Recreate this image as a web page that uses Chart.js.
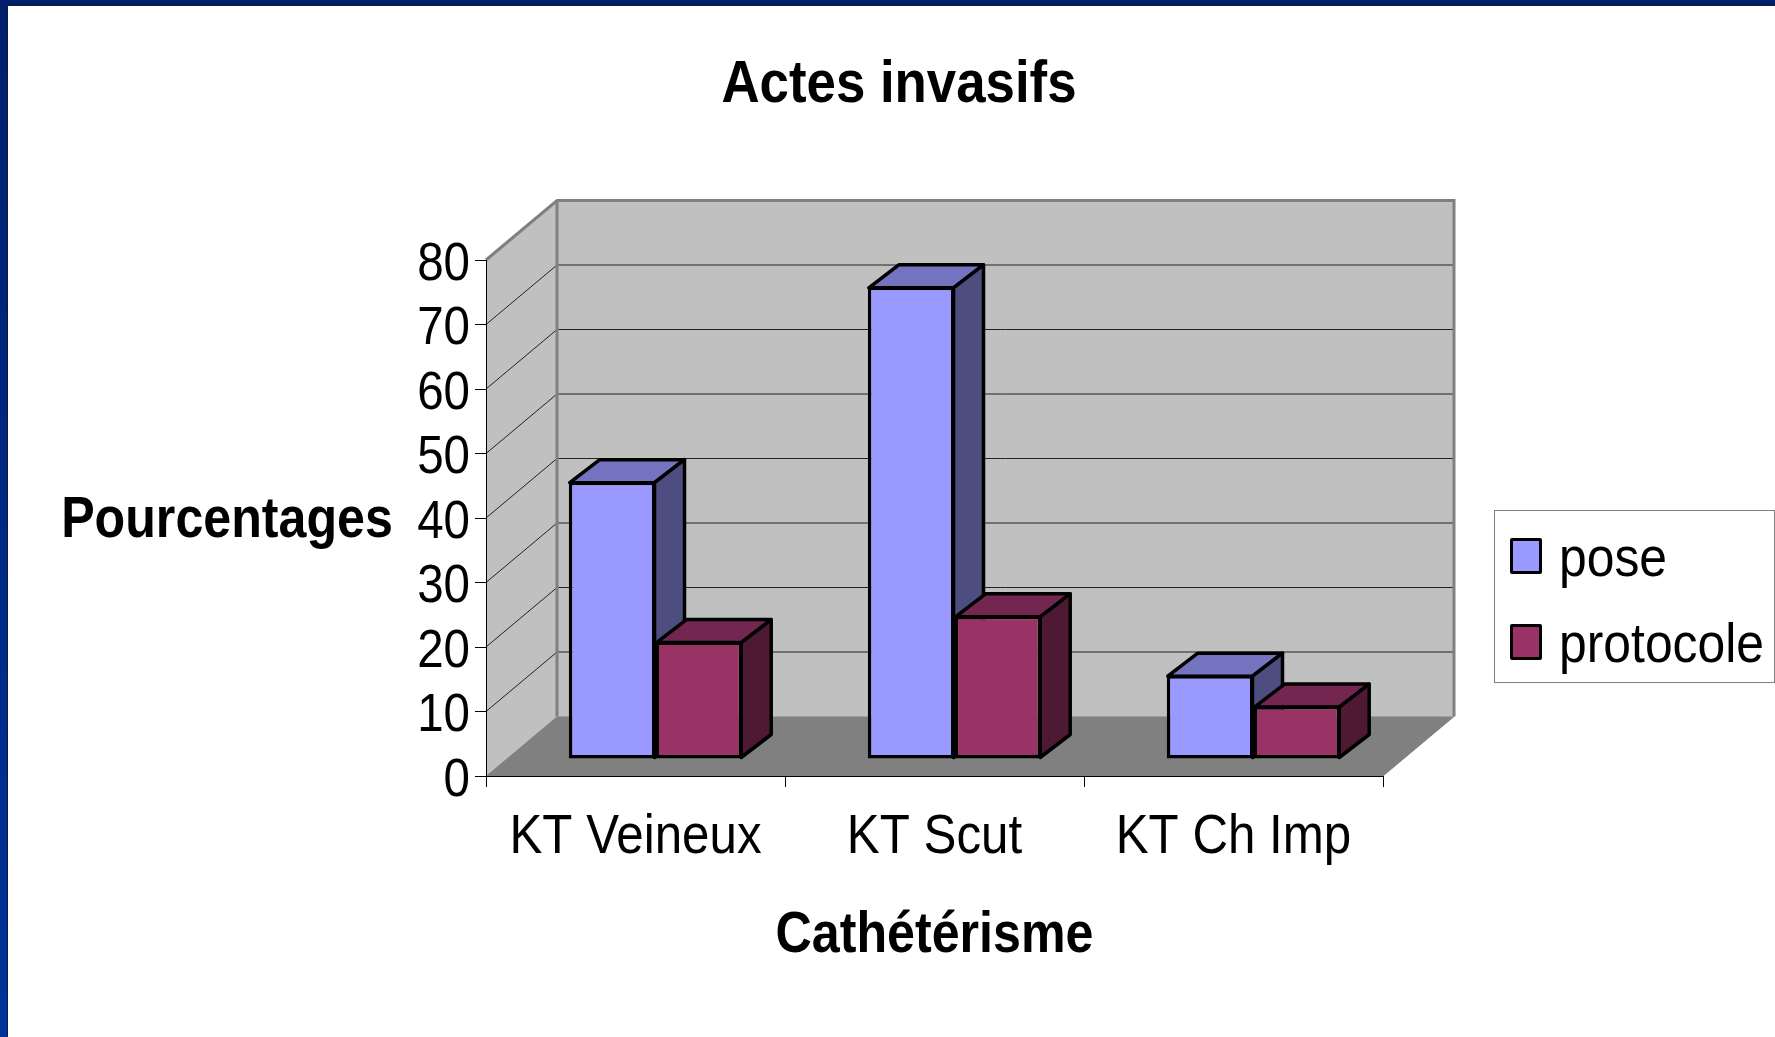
<!DOCTYPE html>
<html lang="fr">
<head>
<meta charset="utf-8">
<title>Actes invasifs</title>
<script src="https://cdn.jsdelivr.net/npm/chart.js@4"></script>
<style>
  html, body { margin: 0; height: 100%; overflow: hidden; }
  body { background: linear-gradient(#00206b, #003399); }
  #panel { position: absolute; left: 8px; top: 6px; right: 0; bottom: 0; background: #fff; box-shadow: -1px -1px 0 #101840; }
  #chart { position: absolute; left: 0; top: 0; }
  #legend {
    position: absolute; left: 1494px; top: 510px; width: 279px; height: 171px;
    background: #fff; border: 1px solid #808080;
    font: 56px "Liberation Sans", sans-serif; color: #000;
  }
  .item { position: absolute; left: 15px; display: flex; align-items: center; height: 70px; }
  .swatch { width: 26px; height: 30px; border: 3px solid #000; border-radius: 2px; margin-right: 17px; }
  .name { display: inline-block; transform: scaleX(0.89); transform-origin: left center; }
</style>
</head>
<body>
<div id="panel"></div>
<canvas id="chart" width="1775" height="1037"></canvas>
<div id="legend"></div>
<script>
const categories     = ['KT Veineux', 'KT Scut', 'KT Ch Imp'];
const poseValues     = [43, 73.2, 13];
const protocolValues = [18.2, 22.2, 8.2];
const yTicks         = [0, 10, 20, 30, 40, 50, 60, 70, 80];

const chartTitle = 'Actes invasifs';
const xTitle     = 'Cathétérisme';
const yTitle     = 'Pourcentages';

const sans = '"Liberation Sans", sans-serif';

/* depth of the box and of the bars, in px */
const wallDx = 71, wallDy = 59.5;
const barShiftX = 20, barShiftY = 17;
const barDx = 30, barDy = 23;

/* the original text is squeezed sideways, no narrow font here so do it on fillText */
const canvas = document.getElementById('chart');
const rawCtx = canvas.getContext('2d');
const rawFillText = rawCtx.fillText.bind(rawCtx);
rawCtx.fillText = (text, x, y) => {
  rawCtx.save();
  rawCtx.translate(x, y);
  rawCtx.scale(0.88, 1);
  rawFillText(text, 0, 0);
  rawCtx.restore();
};

/* ── Walls, floor, gridlines and the horizontal y title ── */
const wallsPlugin = {
  id: 'walls',
  beforeDraw(chart) {
    const { ctx, chartArea: a } = chart;
    const y = chart.scales.y;
    const top = y.getPixelForValue(yTicks[yTicks.length - 1]);
    const bot = y.getPixelForValue(0);

    ctx.save();
    ctx.fillStyle = '#c0c0c0';
    ctx.beginPath();
    ctx.moveTo(a.left, top);
    ctx.lineTo(a.left + wallDx, top - wallDy);
    ctx.lineTo(a.right + wallDx, top - wallDy);
    ctx.lineTo(a.right + wallDx, bot - wallDy);
    ctx.lineTo(a.left, bot);
    ctx.closePath();
    ctx.fill();

    ctx.fillStyle = '#808080';
    ctx.beginPath();
    ctx.moveTo(a.left, bot);
    ctx.lineTo(a.left + wallDx, bot - wallDy);
    ctx.lineTo(a.right + wallDx, bot - wallDy);
    ctx.lineTo(a.right, bot);
    ctx.closePath();
    ctx.fill();

    ctx.strokeStyle = '#222';
    ctx.lineWidth = 1;
    yTicks.slice(1, -1).forEach(v => {
      const py = y.getPixelForValue(v);
      ctx.beginPath();
      ctx.moveTo(a.left, py);
      ctx.lineTo(a.left + wallDx, py - wallDy);
      ctx.lineTo(a.right + wallDx, py - wallDy);
      ctx.stroke();
    });

    ctx.strokeStyle = '#808080';
    ctx.lineWidth = 3;
    ctx.beginPath();
    ctx.moveTo(a.left, top);
    ctx.lineTo(a.left + wallDx, top - wallDy);
    ctx.lineTo(a.right + wallDx, top - wallDy);
    ctx.lineTo(a.right + wallDx, bot - wallDy);
    ctx.moveTo(a.left + wallDx, top - wallDy);
    ctx.lineTo(a.left + wallDx, bot - wallDy);
    ctx.stroke();
    ctx.lineWidth = 1;
    ctx.beginPath();
    ctx.moveTo(a.right + wallDx, bot - wallDy);
    ctx.lineTo(a.right, bot);
    ctx.stroke();

    ctx.fillStyle = '#000';
    ctx.font = 'bold 57px ' + sans;
    ctx.textAlign = 'center';
    ctx.textBaseline = 'middle';
    ctx.fillText(yTitle, 227, 521);
    ctx.restore();
  },
  /* Chart.js paints the last dataset first, here pose must go under protocole */
  beforeDatasetDraw() {
    return false;
  },
  /* bars sit inside the box: shift them, then add the side and top faces */
  afterDatasetsDraw(chart) {
    const { ctx } = chart;
    chart.data.datasets.forEach((ds, i) => {
      const meta = chart.getDatasetMeta(i);
      ctx.save();
      ctx.translate(barShiftX, -barShiftY);
      ctx.strokeStyle = '#000';
      ctx.lineWidth = 3.5;
      ctx.lineJoin = 'round';
      meta.data.forEach(bar => {
        const left = bar.x - bar.width / 2 + 1, right = bar.x + bar.width / 2 - 1;
        const topY = bar.y + 1, baseY = bar.base - 1;
        ctx.fillStyle = ds.topColor;
        ctx.beginPath();
        ctx.moveTo(left, topY);
        ctx.lineTo(left + barDx, topY - barDy);
        ctx.lineTo(right + barDx, topY - barDy);
        ctx.lineTo(right, topY);
        ctx.closePath();
        ctx.fill();
        ctx.stroke();
        ctx.fillStyle = ds.sideColor;
        ctx.beginPath();
        ctx.moveTo(right, topY);
        ctx.lineTo(right + barDx, topY - barDy);
        ctx.lineTo(right + barDx, baseY - barDy);
        ctx.lineTo(right, baseY);
        ctx.closePath();
        ctx.fill();
        ctx.stroke();
      });
      meta.controller.draw();
      ctx.restore();
    });
  }
};

const chart = new Chart(canvas, {
  type: 'bar',
  plugins: [wallsPlugin],
  data: {
    labels: categories,
    datasets: [
      {
        label: 'pose',
        data: poseValues,
        backgroundColor: '#9999ff',
        topColor: '#7373bf',
        sideColor: '#4d4d80',
        borderColor: '#000',
        borderWidth: 3.5,
        borderSkipped: false,
      },
      {
        label: 'protocole',
        data: protocolValues,
        backgroundColor: '#993366',
        topColor: '#732650',
        sideColor: '#4d1933',
        borderColor: '#000',
        borderWidth: 3.5,
        borderSkipped: false,
      }
    ]
  },
  options: {
    responsive: false,
    animation: false,
    categoryPercentage: 0.58,
    barPercentage: 1,
    layout: { padding: { left: 415, right: 392, top: 49, bottom: 0 } },
    plugins: {
      legend: { display: false },
      tooltip: { enabled: false },
      title: {
        display: true,
        text: chartTitle,
        color: '#000',
        font: { family: sans, size: 60, weight: 'bold' },
        padding: { top: 0, bottom: 139 },
      }
    },
    scales: {
      x: {
        afterFit: s => { s.height = 261; },
        border: { color: '#000', width: 1 },
        grid: { drawOnChartArea: false, color: '#000', tickLength: 11 },
        ticks: { color: '#000', font: { family: sans, size: 56 }, padding: 17, maxRotation: 0, autoSkip: false },
        title: {
          display: true,
          text: xTitle,
          color: '#000',
          font: { family: sans, size: 57, weight: 'bold' },
          padding: { top: 0, bottom: 67 },
        }
      },
      y: {
        min: yTicks[0],
        max: yTicks[yTicks.length - 1],
        afterFit: s => { s.width = 71; },
        afterBuildTicks: s => { s.ticks = yTicks.map(value => ({ value })); },
        border: { color: '#000', width: 1 },
        grid: { drawOnChartArea: false, color: '#000', tickLength: 11 },
        ticks: { color: '#000', font: { family: sans, size: 54 }, padding: 5, labelOffset: 5, autoSkip: false },
      }
    }
  }
});

/* ── Legend box ── */
const legend = document.getElementById('legend');
chart.data.datasets.forEach((ds, i) => {
  const item = document.createElement('div');
  item.className = 'item';
  item.style.top = (10 + i * 86) + 'px';
  const swatch = document.createElement('span');
  swatch.className = 'swatch';
  swatch.style.background = ds.backgroundColor;
  const name = document.createElement('span');
  name.className = 'name';
  name.textContent = ds.label;
  item.append(swatch, name);
  legend.append(item);
});
</script>
</body>
</html>
